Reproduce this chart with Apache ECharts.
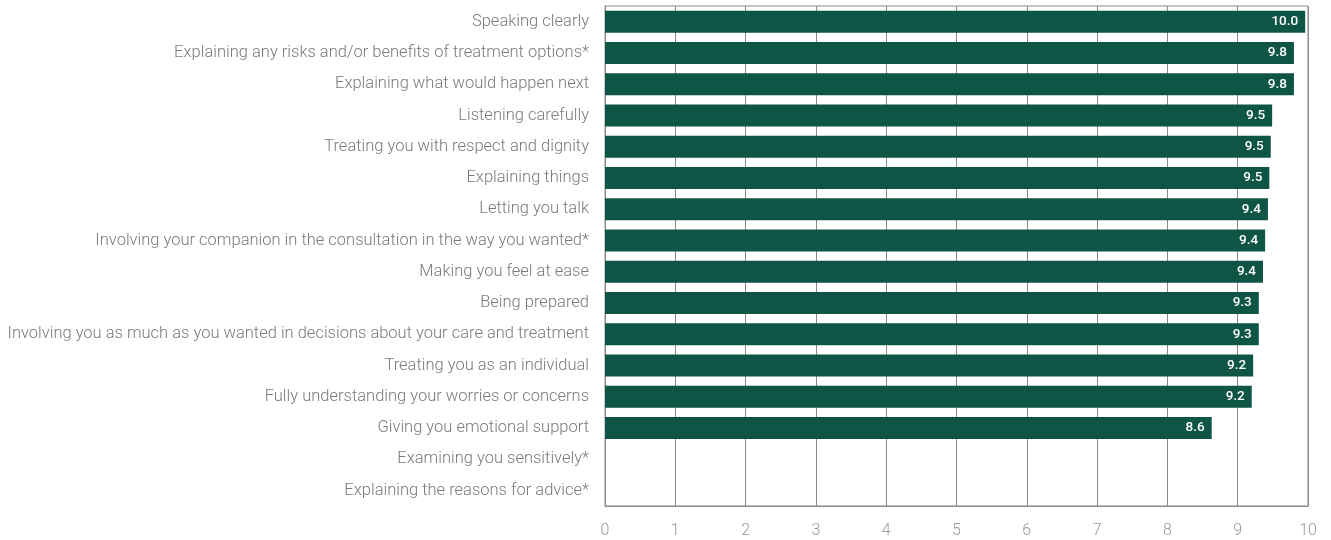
<!DOCTYPE html>
<html>
<head>
<meta charset="utf-8">
<script src="https://cdn.jsdelivr.net/npm/echarts@6/dist/echarts.min.js"></script>
<style>html,body{margin:0;padding:0;background:#fff;}#c{width:1331px;height:540px;}</style>
</head>
<body>
<div id="c"></div>
<script>
var categories = [
  "Speaking clearly",
  "Explaining any risks and/or benefits of treatment options*",
  "Explaining what would happen next",
  "Listening carefully",
  "Treating you with respect and dignity",
  "Explaining things",
  "Letting you talk",
  "Involving your companion in the consultation in the way you wanted*",
  "Making you feel at ease",
  "Being prepared",
  "Involving you as much as you wanted in decisions about your care and treatment",
  "Treating you as an individual",
  "Fully understanding your worries or concerns",
  "Giving you emotional support",
  "Examining you sensitively*",
  "Explaining the reasons for advice*"
];
var scores = [9.96, 9.8, 9.8, 9.49, 9.47, 9.45, 9.43, 9.39, 9.36, 9.3, 9.3, 9.22, 9.2, 8.63, null, null];
var xTicks = [0, 1, 2, 3, 4, 5, 6, 7, 8, 9, 10];

var chart = echarts.init(document.getElementById('c'));
chart.setOption({
  animation: false,
  grid: { left: 605, right: 23, top: 6, bottom: 34, show: true, borderColor: '#8a8a8a', borderWidth: 1, containLabel: false },
  xAxis: {
    type: 'value', min: xTicks[0], max: xTicks[xTicks.length - 1], interval: 1,
    axisLine: { show: true, lineStyle: { color: '#8a8a8a', width: 1 } },
    axisTick: { show: false },
    splitLine: { show: true, lineStyle: { color: '#8a8a8a', width: 1 } },
    axisLabel: { color: '#999', fontFamily: 'Roboto', fontWeight: 300, fontSize: 16, margin: 17 }
  },
  yAxis: {
    type: 'category', data: categories, inverse: true,
    axisLine: { show: true, lineStyle: { color: '#8a8a8a' } },
    axisTick: { show: false },
    axisLabel: { color: '#7a7a7a', fontFamily: 'Roboto', fontWeight: 300, fontSize: 16.5, margin: 16, padding: [4, 0, 0, 0] }
  },
  series: [{
    type: 'bar', data: scores, barWidth: 22,
    itemStyle: { color: '#0f5546' },
    label: {
      show: true, position: 'insideRight', distance: 7,
      color: '#fff', fontFamily: 'Roboto', fontWeight: 500, fontSize: 13.5,
      formatter: function (p) { return p.value == null ? '' : (Math.round(p.value * 10) / 10).toFixed(1); }
    }
  }]
});
</script>
</body>
</html>
